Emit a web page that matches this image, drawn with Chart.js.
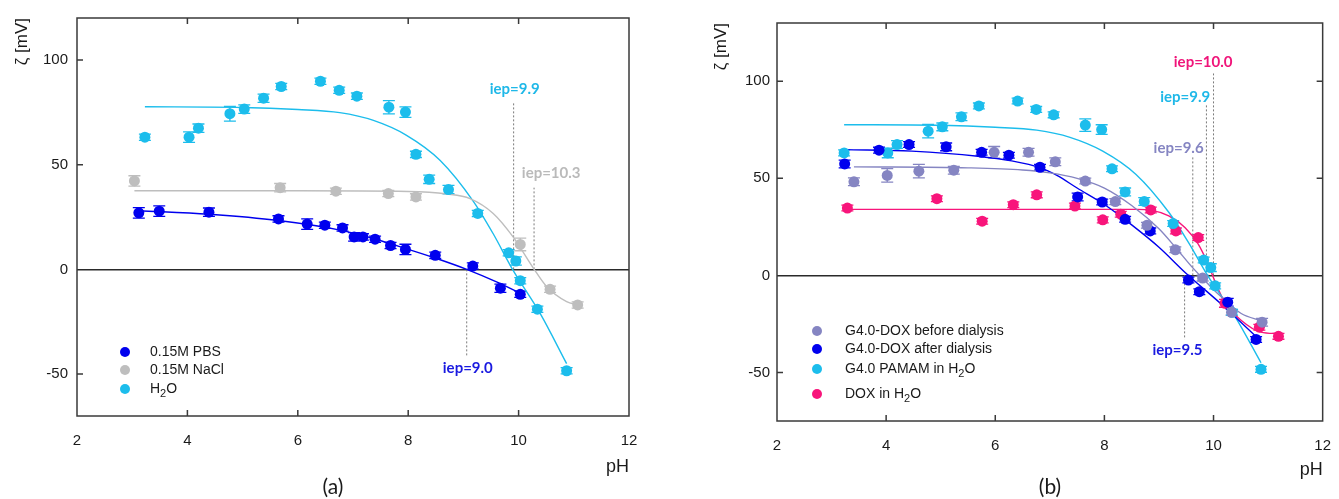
<!DOCTYPE html>
<html>
<head>
<meta charset="utf-8">
<title>Zeta potential vs pH</title>
<script src="https://cdn.jsdelivr.net/npm/chart.js@4.4.1/dist/chart.umd.min.js"></script>
<style>
  body { margin: 0; background: #fff; width: 1339px; height: 499px; overflow: hidden; position: relative; }
  .panel { position: absolute; top: 0; height: 499px; }
  #wrapA { left: 0; width: 669px; }
  #wrapB { left: 669px; width: 670px; }
</style>
</head>
<body>
<div class="panel" id="wrapA"><canvas id="chartA"></canvas></div>
<div class="panel" id="wrapB"><canvas id="chartB"></canvas></div>
<script>
// ---- data ----
const xTicks = [2, 4, 6, 8, 10, 12];
const yTicks = [-50, 0, 50, 100];

// H2O (panel a) = G4.0 PAMAM in H2O (panel b)
const h2oPH   = [3.23, 4.03, 4.20, 4.77, 5.03, 5.38, 5.70, 6.41, 6.75, 7.07, 7.65, 7.95, 8.14, 8.38, 8.73, 9.26, 9.82, 9.95, 10.03, 10.34, 10.87];
const h2oZeta = [63.1, 63.1, 67.4, 74.3, 76.5, 81.7, 87.3, 89.8, 85.5, 82.7, 77.4, 75.1, 54.9, 43.0, 38.1, 26.7, 7.9, 4.0, -5.4, -19.0, -48.4];
const h2oErr  = [1.5, 2.5, 2, 3.5, 2, 2, 1.5, 1.5, 1.5, 1.5, 3.2, 2.5, 1.5, 2, 2, 1.5, 1.5, 2, 1.5, 1.5, 1.5];
const h2oFitPH   = [3.23, 5.0, 6.0, 6.76, 7.37, 7.97, 8.58, 9.18, 9.54, 9.89, 10.39, 10.87];
const h2oFitZeta = [77.6, 77.3, 76.3, 74.8, 71.1, 64.0, 52.0, 32.5, 17.0, 0, -21, -45];

const naclPH   = [3.04, 5.68, 6.69, 7.64, 8.14, 10.03, 10.57, 11.07];
const naclZeta = [42.2, 39.0, 37.3, 36.2, 34.6, 11.9, -9.5, -17.0];
const naclErr  = [2.5, 2, 1.5, 1.5, 1.5, 3, 1.5, 1.5];
const naclFitPH   = [3.04, 6.0, 8.0, 8.7, 9.12, 9.54, 9.90, 10.27, 10.51, 10.87, 11.07];
const naclFitZeta = [37.5, 37.5, 37.2, 36.0, 33.8, 26.7, 15.5, 0.5, -8.3, -15.4, -17.0];

const pbsPH   = [3.12, 3.49, 4.39, 5.65, 6.17, 6.49, 6.81, 7.02, 7.18, 7.40, 7.68, 7.95, 8.49, 9.17, 9.67, 10.03];
const pbsZeta = [27.0, 27.8, 27.3, 24.1, 21.6, 21.1, 19.8, 15.5, 15.5, 14.4, 11.4, 9.5, 6.7, 1.6, -9.0, -11.9];
const pbsErr  = [2.5, 2.5, 2, 1.5, 2.5, 1.5, 1.5, 2, 1.5, 1.5, 1.5, 2.5, 1.5, 1.5, 2, 1.5];
const pbsFitPH   = [3.12, 4.39, 5.65, 6.81, 7.40, 7.97, 8.50, 9.06, 9.60, 10.03];
const pbsFitZeta = [28.0, 26.3, 23.3, 18.5, 14.5, 9.8, 5.3, 0, -6.0, -11.4];

const beforePH   = [3.41, 4.02, 4.60, 5.24, 5.98, 6.61, 7.10, 7.65, 8.20, 8.78, 9.30, 9.80, 10.33, 10.89];
const beforeZeta = [48.2, 51.5, 53.7, 54.2, 63.4, 63.4, 58.5, 48.6, 38.0, 25.8, 13.2, -1.4, -19.0, -24.1];
const beforeErr  = [2, 3.5, 3.5, 2, 3, 2, 2, 1.5, 1.5, 1.5, 1.5, 1.5, 1.5, 2];
const beforeFitPH   = [3.41, 5.5, 6.5, 7.0, 7.5, 8.0, 8.5, 9.0, 9.3, 9.6, 9.8, 10.1, 10.5, 10.89];
const beforeFitZeta = [55.9, 55.4, 54.3, 52.8, 50.0, 45.0, 36.0, 24.0, 14.5, 4.5, -1.5, -10.0, -19.5, -23.6];

const afterPH   = [3.24, 3.87, 4.42, 5.10, 5.75, 6.25, 6.82, 7.51, 7.96, 8.38, 8.84, 9.54, 9.74, 10.26, 10.78];
const afterZeta = [57.4, 64.5, 67.4, 66.2, 63.4, 61.9, 55.7, 40.4, 37.8, 28.9, 22.9, -2.4, -8.4, -13.8, -33.0];
const afterErr  = [2, 1.5, 1.5, 2, 1.5, 1.5, 1.5, 2, 1.5, 1.5, 1.5, 1.5, 1.5, 2, 1.5];
const afterFitPH   = [3.24, 4.47, 5.68, 6.3, 6.82, 7.13, 7.5, 8.0, 8.5, 9.0, 9.5, 10.15, 10.8];
const afterFitZeta = [64.8, 64.0, 61.4, 59.0, 55.5, 51.5, 45.0, 36.5, 26.0, 14.5, 1.0, -15.0, -32.0];

const doxPH   = [3.29, 4.93, 5.76, 6.33, 6.76, 7.46, 7.97, 8.30, 8.85, 9.31, 9.72, 10.21, 10.84, 11.19];
const doxZeta = [34.7, 39.5, 27.9, 36.4, 41.5, 35.7, 28.6, 31.5, 33.7, 22.9, 19.5, -14.4, -26.7, -31.4];
const doxErr  = [1.5, 1.5, 1.5, 1.5, 1.5, 1.5, 1.5, 1.5, 1.5, 1.5, 1.5, 2, 1.5, 1.5];
const doxFitPH   = [3.29, 8.60, 8.85, 9.18, 9.48, 9.72, 9.90, 10.02, 10.21, 10.51, 10.87, 11.19];
const doxFitZeta = [34.0, 34.0, 33.6, 30.6, 24.6, 16.1, 5.8, -2.7, -14.0, -23.2, -29.2, -30.0];

// isoelectric points: where the dotted guide sits and how far it reaches
const iepA     = [9.9, 10.3, 9.0];
const iepXA    = [9.91, 10.28, 9.06];
const iepEndA  = [80, 39, -42];
const iepB     = [10.0, 9.9, 9.6, 9.5];
const iepXB    = [10.0, 9.87, 9.62, 9.47];
const iepEndB  = [104, 88, 61, -33];

// ---- colours ----
const BLUE = '#0000ee', CYAN = '#1cbdec', GREY = '#bebebe', PURPLE = '#8585c2', PINK = '#f8157b';

const pts = (xs, ys) => xs.map((x, i) => ({ x: x, y: ys[i] }));

function markers(label, xs, ys, err, color) {
  return { label: label, data: pts(xs, ys), errors: err, backgroundColor: color, borderColor: color,
           borderWidth: 0, pointRadius: 5.5, pointHoverRadius: 5.5, showLine: false, order: 0, legend: true };
}
function fit(xs, ys, color) {
  return { data: pts(xs, ys), borderColor: color, borderWidth: 1.4, pointRadius: 0, showLine: true,
           cubicInterpolationMode: 'monotone', order: 1 };
}
function guide(x, end) {
  return { data: [{ x: x, y: 0 }, { x: x, y: end }], borderColor: '#7a7a7a', borderWidth: 1,
           borderDash: [2, 2], pointRadius: 0, showLine: true, order: 2 };
}

// ---- plugins ----
const errorBars = {
  id: 'errorBars',
  beforeDatasetsDraw(chart) {
    const { ctx, scales: { x, y } } = chart;
    chart.data.datasets.forEach(ds => {
      if (!ds.errors) return;
      ctx.save();
      ctx.strokeStyle = ds.backgroundColor;
      ctx.lineWidth = 1.3;
      ds.data.forEach((p, j) => {
        const px = x.getPixelForValue(p.x);
        const top = y.getPixelForValue(p.y + ds.errors[j]);
        const bot = y.getPixelForValue(p.y - ds.errors[j]);
        ctx.beginPath();
        ctx.moveTo(px, top); ctx.lineTo(px, bot);
        ctx.moveTo(px - 6, top); ctx.lineTo(px + 6, top);
        ctx.moveTo(px - 6, bot); ctx.lineTo(px + 6, bot);
        ctx.stroke();
      });
      ctx.restore();
    });
  }
};

// box around the plot with inward ticks
const frame = {
  id: 'frame',
  afterDraw(chart, args, opts) {
    const { ctx, chartArea: a, scales: { x, y } } = chart;
    const len = 6;
    ctx.save();
    ctx.strokeStyle = '#3a3a3a';
    ctx.lineWidth = 1.5;
    ctx.strokeRect(a.left, a.top, a.right - a.left, a.bottom - a.top);
    ctx.beginPath();
    x.ticks.forEach(t => {
      if (t.value <= x.min || t.value >= x.max) return;
      const px = x.getPixelForValue(t.value);
      ctx.moveTo(px, a.bottom); ctx.lineTo(px, a.bottom - len);
      ctx.moveTo(px, a.top); ctx.lineTo(px, a.top + len);
    });
    y.ticks.forEach(t => {
      if (t.value === 0) return;
      const py = y.getPixelForValue(t.value);
      ctx.moveTo(a.left, py); ctx.lineTo(a.left + len, py);
      if (opts.rightTicks) { ctx.moveTo(a.right, py); ctx.lineTo(a.right - len, py); }
    });
    ctx.stroke();
    ctx.restore();
  }
};

const FONT = "'Liberation Sans', Arial, sans-serif";

// text with '₂' drawn as a lowered small 2
function richText(ctx, text, x, y, size) {
  let cx = x;
  text.split(/(₂)/).forEach(part => {
    if (!part) return;
    if (part === '₂') {
      ctx.font = Math.round(size * 0.75) + 'px ' + FONT;
      ctx.fillText('2', cx, y + size * 0.32);
      cx += ctx.measureText('2').width;
    } else {
      ctx.font = size + 'px ' + FONT;
      ctx.fillText(part, cx, y);
      cx += ctx.measureText(part).width;
    }
  });
}

const insideLegend = {
  id: 'insideLegend',
  afterDraw(chart, args, opts) {
    const { ctx, chartArea: a } = chart;
    const items = chart.data.datasets.filter(ds => ds.legend);
    ctx.save();
    ctx.textBaseline = 'middle';
    items.forEach((ds, k) => {
      const cy = a.top + opts.rows[k];
      ctx.fillStyle = ds.backgroundColor;
      ctx.beginPath();
      ctx.arc(a.left + opts.markerX, cy, 5, 0, Math.PI * 2);
      ctx.fill();
      ctx.fillStyle = '#1a1a1a';
      richText(ctx, ds.label, a.left + opts.textX, cy, 14);
    });
    ctx.restore();
  }
};

const iepLabels = {
  id: 'iepLabels',
  afterDatasetsDraw(chart, args, opts) {
    const { ctx, scales: { x, y } } = chart;
    ctx.save();
    ctx.font = "bold 15px Lato, 'Open Sans', sans-serif";
    ctx.textAlign = 'center';
    ctx.textBaseline = 'middle';
    opts.notes.forEach(n => {
      ctx.fillStyle = n.color;
      ctx.fillText('iep=' + n.iep.toFixed(1), x.getPixelForValue(n.x), y.getPixelForValue(n.y));
    });
    ctx.restore();
  }
};

const panelTag = {
  id: 'panelTag',
  afterDraw(chart, args, opts) {
    const ctx = chart.ctx;
    ctx.save();
    ctx.font = "21px Lato, sans-serif";
    ctx.fillStyle = '#1a1a1a';
    ctx.textAlign = 'center';
    ctx.textBaseline = 'middle';
    ctx.fillText(opts.text, opts.x, opts.y);
    ctx.restore();
  }
};

Chart.defaults.font.family = FONT;
Chart.defaults.color = '#1a1a1a';

function makeScales(yMin, yMax, yWidth, yTitlePad, yTickPad, xHeight, xTitlePad) {
  return {
    x: {
      type: 'linear', min: 2, max: 12,
      afterBuildTicks: s => { s.ticks = xTicks.map(v => ({ value: v })); },
      afterFit: s => { s.height = xHeight; },
      grid: { display: false }, border: { display: false },
      ticks: { padding: 8, font: { family: FONT, size: 15 } },
      title: { display: true, text: 'pH', align: 'end', font: { family: FONT, size: 18 }, padding: { top: 0, bottom: xTitlePad } }
    },
    y: {
      type: 'linear', min: yMin, max: yMax,
      afterBuildTicks: s => { s.ticks = yTicks.map(v => ({ value: v })); },
      afterFit: s => { s.width = yWidth; },
      grid: { drawTicks: false, lineWidth: 1.5, color: c => (c.tick && c.tick.value === 0) ? '#2a2a2a' : 'rgba(0,0,0,0)' },
      border: { display: false },
      ticks: { padding: yTickPad, font: { family: FONT, size: 15 } },
      title: { display: true, text: 'ζ [mV]', align: 'end', font: { family: FONT, size: 17 }, padding: { top: yTitlePad, bottom: 0 } }
    }
  };
}

new Chart(document.getElementById('chartA'), {
  type: 'scatter',
  data: {
    datasets: [
      markers('0.15M PBS', pbsPH, pbsZeta, pbsErr, BLUE),
      markers('0.15M NaCl', naclPH, naclZeta, naclErr, GREY),
      markers('H₂O', h2oPH, h2oZeta, h2oErr, CYAN),
      fit(pbsFitPH, pbsFitZeta, BLUE),
      fit(naclFitPH, naclFitZeta, GREY),
      fit(h2oFitPH, h2oFitZeta, CYAN),
      ...iepXA.map((x, i) => guide(x, iepEndA[i]))
    ]
  },
  options: {
    responsive: true, maintainAspectRatio: false, animation: false,
    layout: { padding: { left: 0, right: 40, top: 17, bottom: 0 } },
    scales: makeScales(-70, 120, 77, 12, 9, 83, 21),
    plugins: {
      legend: { display: false }, tooltip: { enabled: false },
      frame: { rightTicks: false },
      insideLegend: { markerX: 48, textX: 73, rows: [334, 352, 371] },
      iepLabels: { notes: [
        { iep: iepA[0], x: 9.93, y: 86, color: '#1fb8e8' },
        { iep: iepA[1], x: 10.59, y: 46, color: '#bababa' },
        { iep: iepA[2], x: 9.08, y: -47, color: '#1a1ae0' }
      ] },
      panelTag: { text: '(a)', x: 333, y: 487 }
    }
  },
  plugins: [errorBars, frame, insideLegend, iepLabels, panelTag]
});

new Chart(document.getElementById('chartB'), {
  type: 'scatter',
  data: {
    datasets: [
      markers('G4.0-DOX before dialysis', beforePH, beforeZeta, beforeErr, PURPLE),
      markers('G4.0-DOX after dialysis', afterPH, afterZeta, afterErr, BLUE),
      markers('G4.0 PAMAM in H₂O', h2oPH, h2oZeta, h2oErr, CYAN),
      markers('DOX in H₂O', doxPH, doxZeta, doxErr, PINK),
      fit(beforeFitPH, beforeFitZeta, PURPLE),
      fit(afterFitPH, afterFitZeta, BLUE),
      fit(h2oFitPH, h2oFitZeta, CYAN),
      fit(doxFitPH, doxFitZeta, PINK),
      ...iepXB.map((x, i) => guide(x, iepEndB[i]))
    ]
  },
  options: {
    responsive: true, maintainAspectRatio: false, animation: false,
    layout: { padding: { left: 0, right: 10, top: 23, bottom: 0 } },
    scales: makeScales(-75, 130, 108, 42, 7, 78, 18),
    plugins: {
      legend: { display: false }, tooltip: { enabled: false },
      frame: { rightTicks: true },
      insideLegend: { markerX: 40, textX: 68, rows: [308, 326, 346, 371] },
      iepLabels: { notes: [
        { iep: iepB[0], x: 9.81, y: 109.6, color: '#f0157a' },
        { iep: iepB[1], x: 9.48, y: 92, color: '#1fb8e8' },
        { iep: iepB[2], x: 9.36, y: 65.6, color: '#8585c2' },
        { iep: iepB[3], x: 9.34, y: -38.6, color: '#1a1ae0' }
      ] },
      panelTag: { text: '(b)', x: 381, y: 487 }
    }
  },
  plugins: [errorBars, frame, insideLegend, iepLabels, panelTag]
});
</script>
</body>
</html>
